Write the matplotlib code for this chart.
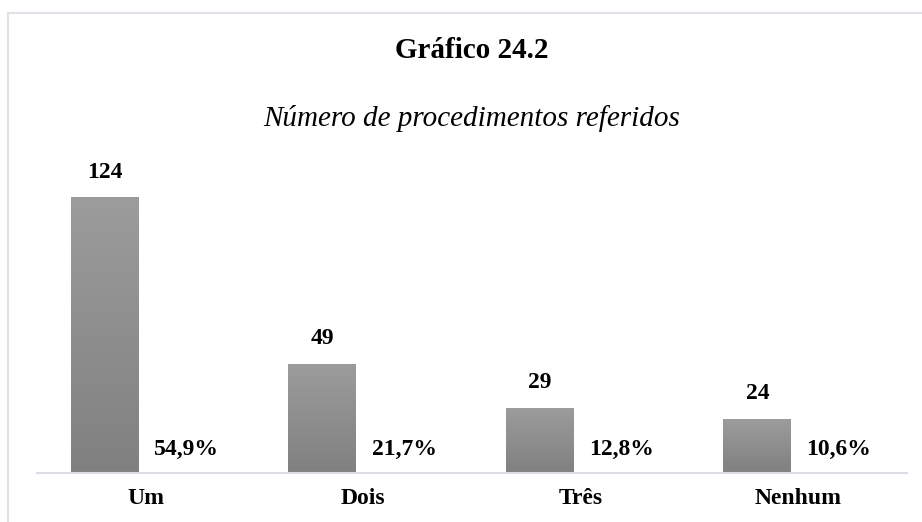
import numpy as np
import matplotlib.pyplot as plt
from matplotlib.patches import Rectangle
from matplotlib.colors import LinearSegmentedColormap

categorias = ['Um', 'Dois', 'Três', 'Nenhum']
contagens = [124, 49, 29, 24]
percentagens = ['54,9%', '21,7%', '12,8%', '10,6%']

plt.rcParams['font.family'] = ['Liberation Serif', 'DejaVu Serif']

fig = plt.figure(figsize=(9.22, 5.22), dpi=100)
# moldura clara (só se vê em cima e à esquerda)
fig.patches.append(Rectangle((8 / 922, -0.1), 1.2, (522 - 13) / 522 + 0.1,
                             transform=fig.transFigure, fill=False,
                             edgecolor='#dfe3e8', linewidth=1.5))

ax = fig.add_axes([37 / 922, 49 / 522, 870 / 922, 310.5 / 522])

largura = 0.3126
desvio = 0.1874
grad = np.linspace(0, 1, 256).reshape(-1, 1)
cmap = LinearSegmentedColormap.from_list('cinza', ['#808080', '#9c9c9c'])

for i, (v, p) in enumerate(zip(contagens, percentagens)):
    x0 = i - desvio - largura / 2
    ax.imshow(grad, cmap=cmap, origin='lower',
              extent=[x0, x0 + largura, 0, v], aspect='auto', zorder=2)
    ax.text(i - desvio, v + 11.7, str(v), ha='center', va='center',
            fontsize=17, fontweight='bold')
    ax.text(i + desvio, 10.4, p, ha='center', va='center',
            fontsize=17, fontweight='bold')

ax.set_xlim(-0.5, len(categorias) - 0.5)
ax.set_ylim(0, 140)
ax.set_xticks(range(len(categorias)))
ax.set_xticklabels(categorias, fontsize=17, fontweight='bold')
ax.tick_params(axis='x', length=0, pad=11)
ax.set_yticks([])
for s in ['top', 'right', 'left']:
    ax.spines[s].set_visible(False)
ax.spines['bottom'].set_color('#d9dde3')
ax.spines['bottom'].set_linewidth(1.5)

fig.text(472 / 922, 1 - 51 / 522, 'Gráfico 24.2', ha='center', va='center',
         fontsize=21, fontweight='bold')
fig.text(472 / 922, 1 - 118 / 522, 'Número de procedimentos referidos',
         ha='center', va='center', fontsize=21, fontstyle='italic')

fig.savefig('out.png', dpi=100)
